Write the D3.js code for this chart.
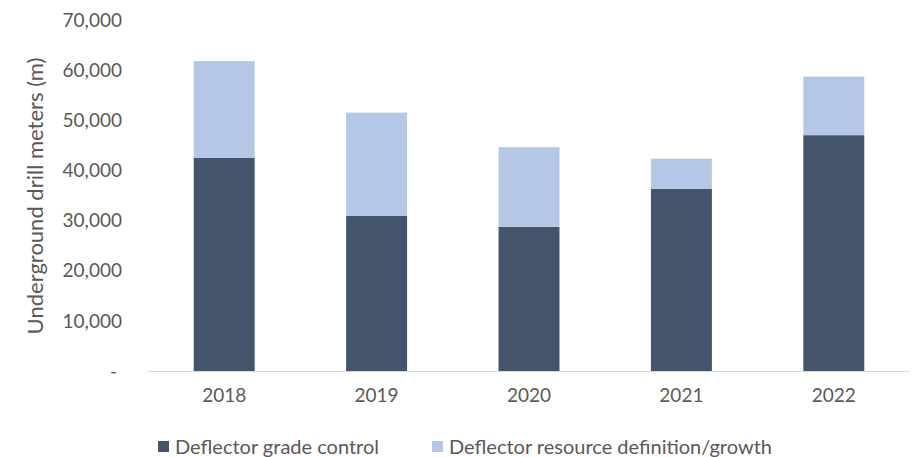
<!DOCTYPE html>
<html>
<head>
<meta charset="utf-8">
<script src="https://cdn.jsdelivr.net/npm/d3@7"></script>
<style>
  body { margin: 0; background: #fff; }
  svg text { font-family: Lato, "Open Sans", sans-serif; fill: #595959; }
</style>
</head>
<body>
<svg id="chart" width="912" height="457"></svg>
<script>
// data
const years = ['2018', '2019', '2020', '2021', '2022'];
const gradeControl = [42600, 31000, 28800, 36400, 47100];
const resourceDef = [19300, 20600, 15900, 6000, 11700];
const seriesNames = ['Deflector grade control', 'Deflector resource definition/growth'];
const seriesColors = ['#44546A', '#B4C7E7'];
const yTicks = [0, 10000, 20000, 30000, 40000, 50000, 60000, 70000];

const svg = d3.select('#chart');

let x = d3.scaleBand()
    .domain(years)
    .range([148, 910])
    .paddingInner(0.6)
    .paddingOuter(0.3);

let y = d3.scaleLinear()
    .domain([0, 70000])
    .range([371, 20.5]);

let rows = years.map((yr, i) => ({ year: yr, grade: gradeControl[i], resource: resourceDef[i] }));
let stacked = d3.stack().keys(['grade', 'resource'])(rows);

// bars
svg.append('g')
    .selectAll('g')
    .data(stacked)
    .join('g')
    .attr('fill', (d, i) => seriesColors[i])
    .selectAll('rect')
    .data(d => d)
    .join('rect')
    .attr('x', d => x(d.data.year))
    .attr('y', d => y(d[1]))
    .attr('width', x.bandwidth())
    .attr('height', d => y(d[0]) - y(d[1]));

// x axis
let xAxis = svg.append('g')
    .attr('transform', 'translate(0,371)')
    .call(d3.axisBottom(x).tickSize(0).tickPadding(18));
xAxis.select('.domain').attr('stroke', '#D9D9D9').attr('d', 'M148,0.5H910');
xAxis.selectAll('text').style('font-size', '19px');

// y axis
let yAxis = svg.append('g')
    .attr('transform', 'translate(122,0)')
    .call(d3.axisLeft(y)
        .tickValues(yTicks)
        .tickSize(0)
        .tickPadding(0)
        .tickFormat(d => d === 0 ? '-' : d3.format(',')(d)));
yAxis.select('.domain').remove();
yAxis.selectAll('text').style('font-size', '19px')
    .attr('dx', d => d === 0 ? -5 : 0);

// y title
svg.append('text')
    .attr('transform', 'translate(43,196) rotate(-90)')
    .attr('text-anchor', 'middle')
    .style('font-size', '22px')
    .text('Underground drill meters (m)');

// legend
let legendX = [158, 432];
let legend = svg.append('g')
    .selectAll('g')
    .data(seriesNames)
    .join('g')
    .attr('transform', (d, i) => `translate(${legendX[i]},441)`);
legend.append('rect')
    .attr('width', 11)
    .attr('height', 11)
    .attr('fill', (d, i) => seriesColors[i]);
legend.append('text')
    .attr('x', 17)
    .attr('y', 6)
    .attr('dy', '0.35em')
    .style('font-size', '20px')
    .text(d => d);
</script>
</body>
</html>
